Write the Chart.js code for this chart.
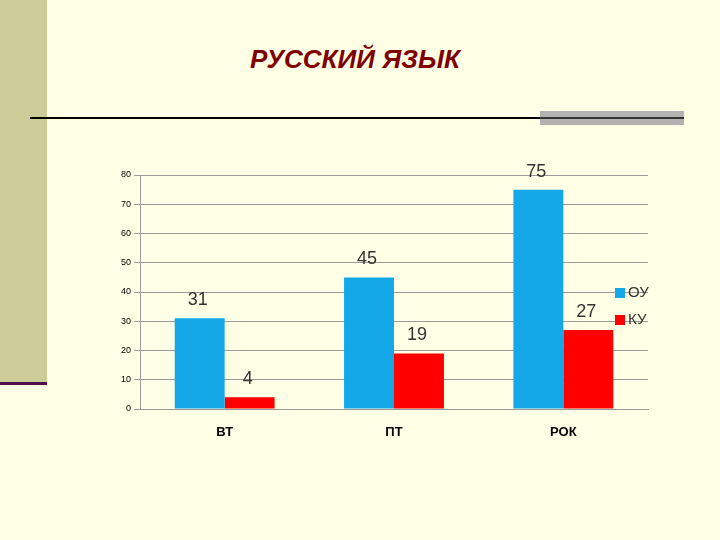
<!DOCTYPE html>
<html><head><meta charset="utf-8">
<script src="https://cdn.jsdelivr.net/npm/chart.js@4"></script>
<style>
body{margin:0;background:#ffffe6;width:720px;height:540px;position:relative;overflow:hidden;font-family:"Liberation Sans",Arial,sans-serif}
#band{position:absolute;left:0;top:0;width:47px;height:382px;background:#cccc99}
#bandLine{position:absolute;left:0;top:382px;width:47px;height:3px;background:#4d0f4d}
#hline{position:absolute;left:30px;top:117px;width:510px;height:2px;background:#000}
#gray{position:absolute;left:540px;top:111px;width:144px;height:14px;background:#b2b2b2}
#gray2{position:absolute;left:540px;top:117px;width:144px;height:2px;background:#333}
#title{position:absolute;left:0;width:720px;top:44px;text-align:center;font-size:26px;font-weight:bold;font-style:italic;color:#800000;padding-left:0}
canvas{position:absolute;left:0;top:0}
</style></head><body>
<div id="band"></div><div id="bandLine"></div>
<div id="hline"></div><div id="gray"></div><div id="gray2"></div>
<div id="title"><span style="position:relative;left:-5px">РУССКИЙ ЯЗЫК</span></div>
<canvas id="c" width="720" height="540"></canvas>
<script>
const categories = ["ВТ", "ПТ", "РОК"];
const seriesOU = [31, 45, 75];
const seriesKU = [4, 19, 27];
const seriesNames = ["ОУ", "КУ"];
const colors = ["#14a8e8", "#ff0000"];

const overlay = {
  id: "overlay",
  afterDatasetsDraw(chart) {
    const ctx = chart.ctx;
    ctx.save();
    ctx.font = "18px 'Liberation Sans', Arial";
    ctx.fillStyle = "#333";
    ctx.textAlign = "center";
    ctx.textBaseline = "alphabetic";
    chart.data.datasets.forEach((ds, i) => {
      chart.getDatasetMeta(i).data.forEach((bar, j) => {
        ctx.fillText(ds.data[j], bar.x - 2, bar.y - 13);
      });
    });
    // legend
    ctx.font = "15px 'Liberation Sans', Arial";
    ctx.textAlign = "left";
    ctx.textBaseline = "middle";
    seriesNames.forEach((n, i) => {
      const y = 293 + i * 27;
      ctx.fillStyle = colors[i];
      ctx.fillRect(615, y - 5, 10, 10);
      ctx.fillStyle = "#333";
      ctx.fillText(n, 628, y);
    });
    ctx.restore();
  }
};

new Chart(document.getElementById("c"), {
  type: "bar",
  data: {
    labels: categories,
    datasets: [
      { label: seriesNames[0], data: seriesOU, backgroundColor: colors[0] },
      { label: seriesNames[1], data: seriesKU, backgroundColor: colors[1] }
    ]
  },
  options: {
    responsive: false,
    animation: false,
    layout: { padding: { left: 100, top: 175, right: 72, bottom: 91 } },
    datasets: { bar: { categoryPercentage: 0.59, barPercentage: 1 } },
    plugins: { legend: { display: false }, tooltip: { enabled: false } },
    scales: {
      x: {
        afterFit: s => { s.height = 40; },
        grid: { display: false },
        border: { color: "#999" },
        ticks: { color: "#000", font: { size: 13, weight: "bold" }, padding: 8 }
      },
      y: {
        min: 0, max: 80,
        afterFit: s => { s.width = 40; },
        ticks: { stepSize: 10, color: "#000", font: { size: 9 } },
        grid: { color: "#999", tickLength: 6 },
        border: { color: "#999" }
      }
    }
  },
  plugins: [overlay]
});
</script>
</body></html>
